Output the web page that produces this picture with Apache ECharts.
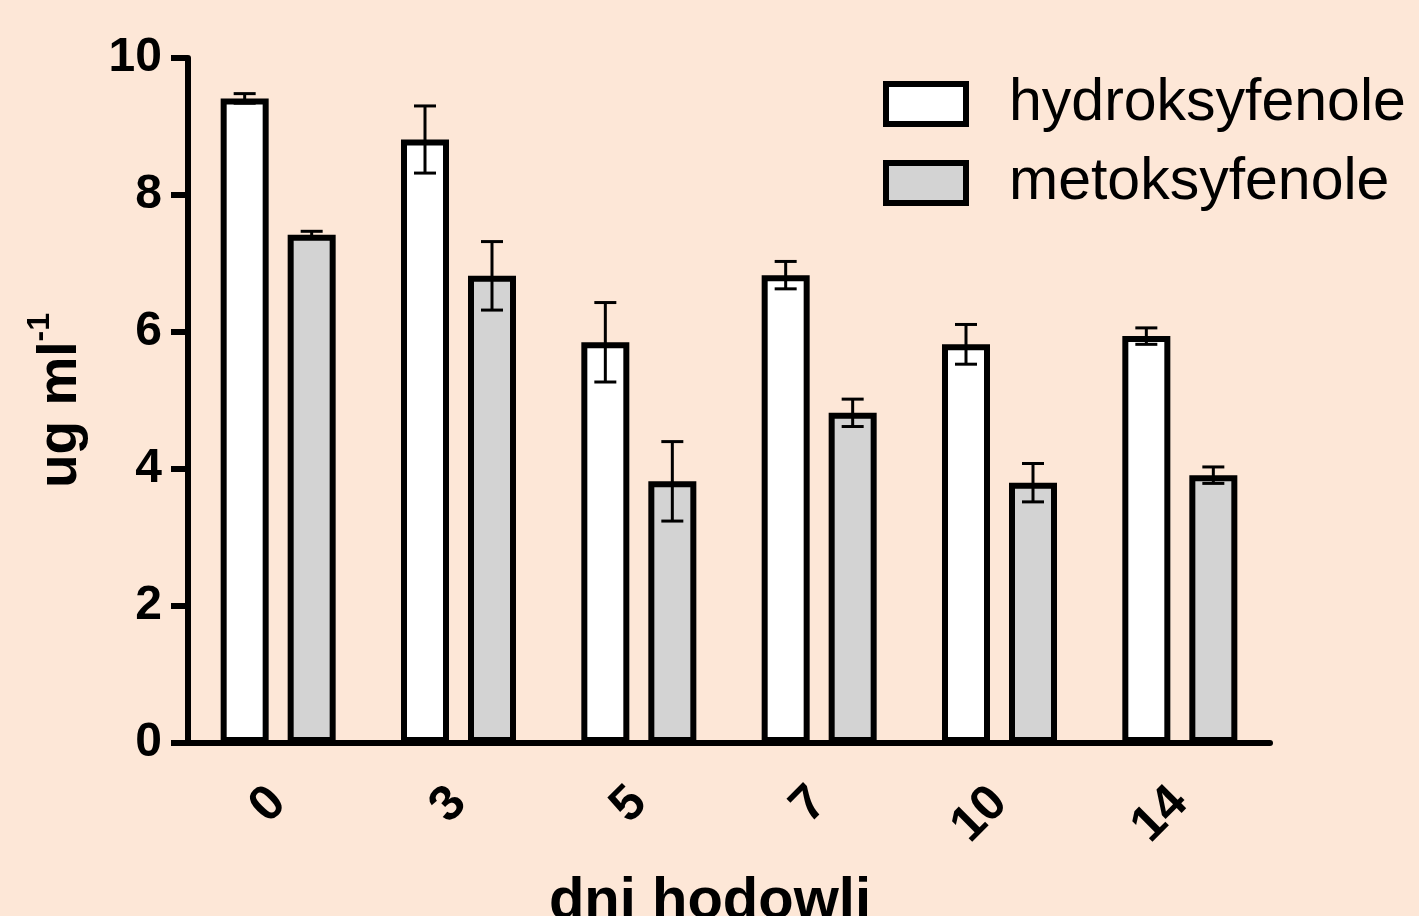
<!DOCTYPE html>
<html>
<head>
<meta charset="utf-8">
<script src="https://cdn.jsdelivr.net/npm/echarts@6/dist/echarts.min.js"></script>
<style>
  html, body { margin: 0; padding: 0; background: #fde7d7; }
  #chart { width: 1419px; height: 916px; }
</style>
</head>
<body>
<div id="chart"></div>
<script>
// days of culture and measured concentrations (ug/ml)
const days = ['0', '3', '5', '7', '10', '14'];
const hydro = [9.41, 8.81, 5.85, 6.83, 5.82, 5.94];
const hydroErr = [0.07, 0.49, 0.58, 0.2, 0.29, 0.12];
const meto = [7.42, 6.82, 3.82, 4.82, 3.80, 3.91];
const metoErr = [0.05, 0.5, 0.58, 0.2, 0.28, 0.12];
const yTicks = [0, 2, 4, 6, 8, 10];

const BAR_W = 48;
const BAR_GAP = 19;
const FONT = '"Liberation Sans", Arial, sans-serif';

// error bar drawn as vertical whisker with caps, shifted onto its bar
function errorBar(offset) {
    return function(params, api) {
        const i = api.value(0);
        const lo = api.coord([i, api.value(1)]);
        const hi = api.coord([i, api.value(2)]);
        const x = lo[0] + offset;
        const cap = 11;
        const style = { stroke: '#000', lineWidth: 3 };
        return {
            type: 'group',
            children: [
                { type: 'line', shape: { x1: x, y1: lo[1], x2: x, y2: hi[1] }, style: style },
                { type: 'line', shape: { x1: x - cap, y1: lo[1], x2: x + cap, y2: lo[1] }, style: style },
                { type: 'line', shape: { x1: x - cap, y1: hi[1], x2: x + cap, y2: hi[1] }, style: style }
            ]
        };
    };
}

function errData(vals, errs) {
    return vals.map((v, i) => [i, v - errs[i], v + errs[i]]);
}

const chart = echarts.init(document.getElementById('chart'));
const shift = (BAR_W + BAR_GAP) / 2;

chart.setOption({
    backgroundColor: '#fde7d7',
    animation: false,
    textStyle: { fontFamily: FONT },
    grid: { left: 188, right: 149, top: 58, bottom: 173, outerBoundsMode: 'none', containLabel: false },
    legend: {
        data: ['hydroksyfenole', 'metoksyfenole'],
        orient: 'vertical',
        left: 883,
        top: 74,
        padding: 0,
        itemWidth: 80,
        itemHeight: 40,
        itemGap: 19,
        icon: 'rect',
        itemStyle: { borderColor: '#000', borderWidth: 6 },
        textStyle: {
            fontFamily: FONT,
            fontSize: 59,
            color: '#000',
            lineHeight: 60,
            padding: [0, 0, 0, 38]
        }
    },
    xAxis: {
        type: 'category',
        data: days,
        name: 'dni hodowli',
        nameLocation: 'middle',
        nameGap: 130,
        nameTextStyle: { fontFamily: FONT, fontSize: 58, fontWeight: 'bold', color: '#000', padding: [0, 38, 0, 0] },
        axisLine: { lineStyle: { color: '#000', width: 6 } },
        axisTick: { alignWithLabel: true, length: 18, lineStyle: { color: '#000', width: 6 } },
        axisLabel: {
            rotate: 45,
            margin: 52,
            fontFamily: FONT,
            fontSize: 50,
            fontWeight: 'bold',
            color: '#000'
        }
    },
    yAxis: {
        type: 'value',
        min: yTicks[0],
        max: yTicks[yTicks.length - 1],
        interval: 2,
        name: '{a|ug ml}{b|-1}',
        nameLocation: 'middle',
        nameGap: 100,
        nameRotate: 90,
        nameTextStyle: {
            rich: {
                a: { fontFamily: FONT, fontSize: 55, fontWeight: 'bold', color: '#000', lineHeight: 64, verticalAlign: 'bottom' },
                b: { fontFamily: FONT, fontSize: 32, fontWeight: 'bold', color: '#000', lineHeight: 64, verticalAlign: 'top' }
            }
        },
        splitLine: { show: false },
        axisLine: { show: true, lineStyle: { color: '#000', width: 6 } },
        axisTick: { show: true, length: 17, lineStyle: { color: '#000', width: 6 } },
        axisLabel: {
            margin: 26,
            fontFamily: FONT,
            fontSize: 48,
            fontWeight: 'bold',
            color: '#000'
        }
    },
    series: [
        {
            name: 'hydroksyfenole',
            type: 'bar',
            data: hydro,
            barWidth: BAR_W,
            barGap: (BAR_GAP / BAR_W * 100) + '%',
            itemStyle: { color: '#ffffff', borderColor: '#000', borderWidth: 6 },
            z: 2
        },
        {
            name: 'metoksyfenole',
            type: 'bar',
            data: meto,
            barWidth: BAR_W,
            itemStyle: { color: '#d3d3d3', borderColor: '#000', borderWidth: 6 },
            z: 2
        },
        {
            name: 'hydroErr',
            type: 'custom',
            renderItem: errorBar(-shift),
            data: errData(hydro, hydroErr),
            z: 5,
            silent: true
        },
        {
            name: 'metoErr',
            type: 'custom',
            renderItem: errorBar(shift),
            data: errData(meto, metoErr),
            z: 5,
            silent: true
        }
    ]
});
</script>
</body>
</html>
